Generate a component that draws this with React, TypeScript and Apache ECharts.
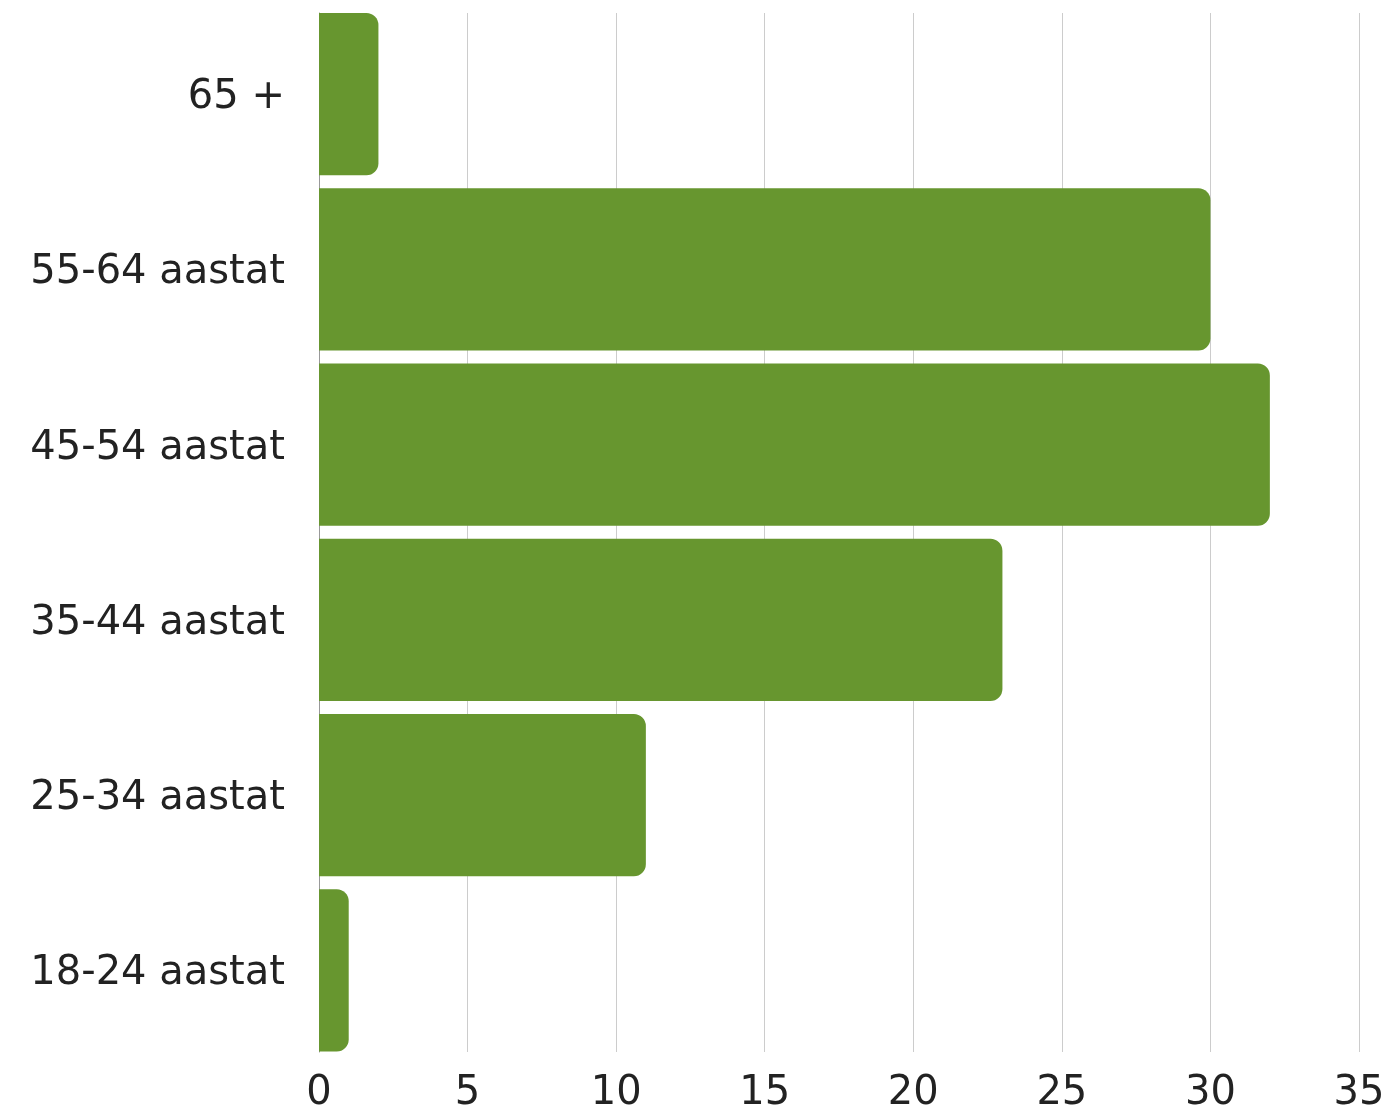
import React, { useEffect, useRef } from "react";
import * as echarts from "echarts";

const categories = ["18-24 aastat", "25-34 aastat", "35-44 aastat", "45-54 aastat", "55-64 aastat", "65 +"];
const values = [1, 11, 23, 32, 30, 2];
const xMin = 0;
const xMax = 35;
const xInterval = 5;

const FONT = "'DejaVu Sans', sans-serif";

export default function App() {
  const ref = useRef<HTMLDivElement>(null);
  useEffect(() => {
    if (!ref.current) return;
    const chart = echarts.init(ref.current, null, { renderer: "svg" });
    chart.setOption({
      animation: false,
      grid: [
        { left: 319, right: 32, top: 6.5, bottom: 55, containLabel: false },
        { left: 319, right: 32, top: 13, bottom: 61, containLabel: false },
      ],
      xAxis: [
        {
          type: "value",
          gridIndex: 0,
          min: xMin,
          max: xMax,
          interval: xInterval,
          axisLine: { show: false },
          axisTick: { show: false },
          splitLine: { show: false },
          axisLabel: { show: false },
        },
        {
          type: "value",
          gridIndex: 1,
          min: xMin,
          max: xMax,
          interval: xInterval,
          axisLine: { show: false },
          axisTick: { show: false },
          splitLine: { show: true, lineStyle: { color: "#cccccc", width: 1 } },
          axisLabel: { color: "#222222", fontSize: 40, lineHeight: 40, fontFamily: FONT, margin: 18 },
        },
      ],
      yAxis: [
        {
          type: "category",
          gridIndex: 0,
          data: categories,
          axisLine: { show: false },
          axisTick: { show: false },
          axisLabel: { color: "#222222", fontSize: 40, fontFamily: FONT, margin: 34 },
        },
        {
          type: "category",
          gridIndex: 1,
          data: categories,
          axisLine: { show: true, lineStyle: { color: "#999999", width: 1 } },
          axisTick: { show: false },
          axisLabel: { show: false },
          splitLine: { show: false },
        },
      ],
      series: [
        {
          type: "bar",
          xAxisIndex: 0,
          yAxisIndex: 0,
          data: values,
          barCategoryGap: "7.4%",
          itemStyle: { color: "#67962f", borderRadius: [0, 12, 12, 0] },
          z: 4,
        },
      ],
    });
    return () => chart.dispose();
  }, []);
  return <div ref={ref} style={{ position: "fixed", left: 0, top: 0, width: 1391, height: 1113 }} />;
}
